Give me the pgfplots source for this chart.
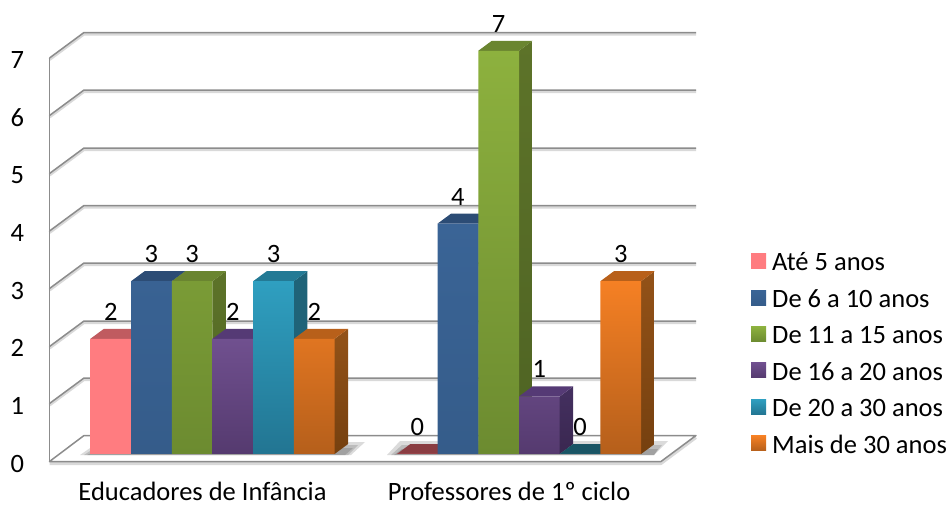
\documentclass[border=0pt]{standalone}
\usepackage{fontspec}
\setmainfont{Carlito}
\usepackage{pgfplots}
\pgfplotsset{compat=1.18}

% bar geometry in axis units: 1 group = 306.5 px, 1 value = 57.6 px
\def\bw{0.13279}
\def\dx{0.04405}
\def\dy{0.1736}

\definecolor{gridgray}{HTML}{8C8C8C}
\definecolor{pink}{HTML}{FF7C80}
\definecolor{pinktop}{HTML}{C05B60}
\definecolor{pinkzero}{HTML}{8A3D42}
\definecolor{blueA}{HTML}{3A6496}
\definecolor{blueB}{HTML}{355C8A}
\definecolor{bluetop}{HTML}{2C4C75}
\definecolor{greenA}{HTML}{8DB13E}
\definecolor{greenB}{HTML}{6C8B30}
\definecolor{greentop}{HTML}{6A8530}
\definecolor{greensideA}{HTML}{5D7329}
\definecolor{greensideB}{HTML}{4E6323}
\definecolor{purpleA}{HTML}{70508F}
\definecolor{purpleB}{HTML}{553A6F}
\definecolor{purpletop}{HTML}{553A75}
\definecolor{purplesideA}{HTML}{443060}
\definecolor{purplesideB}{HTML}{3A2750}
\definecolor{cyanA}{HTML}{2F9FC0}
\definecolor{cyanB}{HTML}{227592}
\definecolor{cyantop}{HTML}{237A95}
\definecolor{cyanside}{HTML}{1F6378}
\definecolor{cyanzero}{HTML}{1A5565}
\definecolor{orangeA}{HTML}{F58024}
\definecolor{orangeB}{HTML}{B55F1B}
\definecolor{orangetop}{HTML}{B8601A}
\definecolor{orangesideA}{HTML}{935218}
\definecolor{orangesideB}{HTML}{75400F}

% side and top face of one bar: group, slot, value, top colour, side colours
\newcommand{\barfaces}[6]{%
  \pgfmathsetmacro\xl{#1+(#2-3)*\bw}%
  \pgfmathsetmacro\xr{\xl+\bw}%
  \pgfmathsetmacro\xlb{\xl+\dx}%
  \pgfmathsetmacro\xrb{\xr+\dx}%
  \pgfmathsetmacro\yb{#3+\dy}%
  \addplot[forget plot,draw=none,top color=#5,bottom color=#6]
    coordinates {(\xr,0) (\xrb,\dy) (\xrb,\yb) (\xr,#3)} -- cycle;
  \addplot[forget plot,draw=none,fill=#4]
    coordinates {(\xl,#3) (\xr,#3) (\xrb,\yb) (\xlb,\yb)} -- cycle;
}

\pgfplotsset{
  squarelegend/.style={legend image code/.code={\path[##1] (0pt,-6pt) rectangle (15pt,9pt);}},
  front/.style n args={3}{ybar,bar width=40.7pt,bar shift=#1pt,draw=none,
    top color=#2,bottom color=#3,squarelegend,
    nodes near coords,
    every node near coord/.append style={anchor=center,xshift=#1pt,yshift=27pt,text=black}},
  grid3d/.style={forget plot,color=gridgray,line width=1.5pt,line join=round},
  gridsoft/.style={forget plot,color=black!15,line width=3pt,line join=round},
  shadow/.style={forget plot,draw=none,fill=black,fill opacity=0.14},
}

\begin{document}
\begin{tikzpicture}
\path[use as bounding box] (0,0) rectangle (950pt,506pt);

% walls and floor, in picture pixels
\begin{axis}[
  at={(0pt,0pt)},anchor=south west,scale only axis,width=950pt,height=506pt,
  xmin=0,xmax=950,ymin=0,ymax=506,y dir=reverse,hide axis,clip=false]
  \addplot[gridsoft] coordinates {(49.5,59.5) (84,34) (696,34)};
  \addplot[gridsoft] coordinates {(49.5,117) (84,91.5) (696,91.5)};
  \addplot[gridsoft] coordinates {(49.5,175) (84,149.5) (696,149.5)};
  \addplot[gridsoft] coordinates {(49.5,232.5) (84,207) (696,207)};
  \addplot[gridsoft] coordinates {(49.5,290) (84,264.5) (696,264.5)};
  \addplot[gridsoft] coordinates {(49.5,348) (84,322.5) (696,322.5)};
  \addplot[gridsoft] coordinates {(49.5,405) (84,379.5) (696,379.5)};
  \addplot[grid3d] coordinates {(49.5,58) (84,32.5) (696,32.5)};
  \addplot[grid3d] coordinates {(49.5,115.5) (84,90) (696,90)};
  \addplot[grid3d] coordinates {(49.5,173.5) (84,148) (696,148)};
  \addplot[grid3d] coordinates {(49.5,231) (84,205.5) (696,205.5)};
  \addplot[grid3d] coordinates {(49.5,288.5) (84,263) (696,263)};
  \addplot[grid3d] coordinates {(49.5,346.5) (84,321) (696,321)};
  \addplot[grid3d] coordinates {(49.5,403.5) (84,378) (696,378)};
  \addplot[grid3d] coordinates {(49.5,58) (49.5,461)};
  % floor
  \addplot[forget plot,fill=white,draw=none] coordinates {(84,435.5) (696,435.5) (661,461.5) (49.5,461.5)} -- cycle;
  \addplot[gridsoft] coordinates {(49.5,463.5) (661,463.5) (696,437.5)};
  \addplot[grid3d] coordinates {(84,435.5) (696,435.5) (661,461.5) (49.5,461.5) (84,435.5)};
  % soft shadows on the floor
  \addplot[shadow] coordinates {(80,455) (93,446) (365,442) (351,455)} -- cycle;
  \addplot[shadow] coordinates {(84,455) (93,449) (358,445) (348,455)} -- cycle;
  \addplot[shadow] coordinates {(87,455) (93,452) (353,448) (345,455)} -- cycle;
  \addplot[shadow] coordinates {(387,455) (400,441) (668,441) (654,455)} -- cycle;
  \addplot[shadow] coordinates {(391,455) (402,445) (662,445) (654,455)} -- cycle;
  \addplot[shadow] coordinates {(394,455) (402,449) (658,449) (654,455)} -- cycle;
\end{axis}

\begin{axis}[
  at={(49.5pt,44pt)},anchor=south west,scale only axis,
  width=646.5pt,height=432pt,
  xmin=-0.5318,xmax=1.5775,ymin=-0.1389,ymax=7.3611,
  clip=false,
  axis line style={draw=none},
  tick style={draw=none},
  /pgf/number format/assume math mode=true,
  font=\fontsize{26.5}{30}\selectfont,
  ytick={0,1,2,3,4,5,6,7},
  yticklabel style={xshift=-22pt,yshift=-9.5pt},
  xtick={0,1},
  xticklabels={Educadores de Infância,Professores de 1º ciclo},
  xticklabel style={xshift=-10pt,yshift=-17pt},
  legend cell align=left,
  legend style={at={(1,0)},anchor=south west,xshift=52pt,yshift=3pt,
    /tikz/every odd column/.append style={column sep=4pt},
    draw=none,fill=none,row sep=13.3pt,font=\fontsize{26.5}{30}\selectfont},
]
  % Até 5 anos
  \barfaces{0}{0}{2}{pinktop}{pinktop}{pinktop}
  \barfaces{1}{0}{0}{pinkzero}{pinkzero}{pinkzero}
  \addplot[front={-101.75}{pink}{pink}] coordinates {(0,2) (1,0)};
  % De 6 a 10 anos
  \barfaces{0}{1}{3}{bluetop}{bluetop}{bluetop}
  \barfaces{1}{1}{4}{bluetop}{bluetop}{bluetop}
  \addplot[front={-61.05}{blueA}{blueB}] coordinates {(0,3) (1,4)};
  % De 11 a 15 anos
  \barfaces{0}{2}{3}{greentop}{greensideA}{greensideB}
  \barfaces{1}{2}{7}{greentop}{greensideA}{greensideB}
  \addplot[front={-20.35}{greenA}{greenB}] coordinates {(0,3) (1,7)};
  % De 16 a 20 anos
  \barfaces{0}{3}{2}{purpletop}{purplesideA}{purplesideB}
  \barfaces{1}{3}{1}{purpletop}{purplesideA}{purplesideB}
  \addplot[front={20.35}{purpleA}{purpleB}] coordinates {(0,2) (1,1)};
  % De 20 a 30 anos
  \barfaces{0}{4}{3}{cyantop}{cyanside}{cyanside}
  \barfaces{1}{4}{0}{cyanzero}{cyanzero}{cyanzero}
  \addplot[front={61.05}{cyanA}{cyanB}] coordinates {(0,3) (1,0)};
  % Mais de 30 anos
  \barfaces{0}{5}{2}{orangetop}{orangesideA}{orangesideB}
  \barfaces{1}{5}{3}{orangetop}{orangesideA}{orangesideB}
  \addplot[front={101.75}{orangeA}{orangeB}] coordinates {(0,2) (1,3)};
  \legend{Até 5 anos,De 6 a 10 anos,De 11 a 15 anos,De 16 a 20 anos,De 20 a 30 anos,Mais de 30 anos}
\end{axis}
\end{tikzpicture}
\end{document}
